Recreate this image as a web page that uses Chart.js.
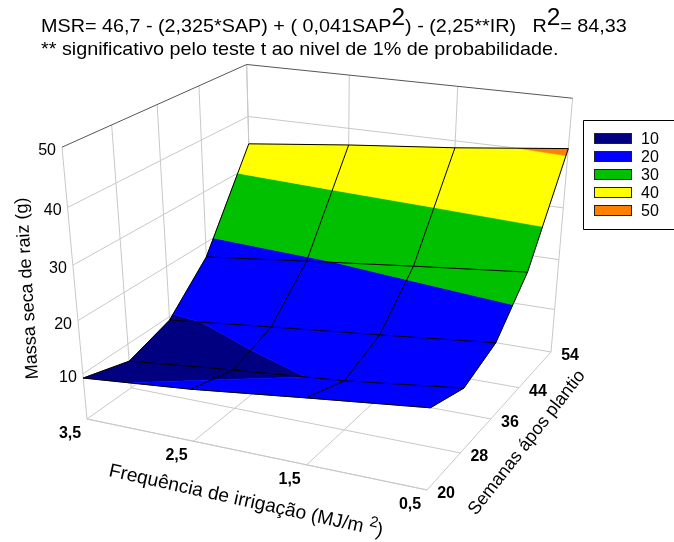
<!DOCTYPE html>
<html>
<head>
<meta charset="utf-8">
<title>Massa seca de raiz</title>
<script src="https://cdn.jsdelivr.net/npm/chart.js@4/dist/chart.umd.min.js"></script>
<style>
    html, body { margin: 0; padding: 0; background: #fff; overflow: hidden; }
    canvas { display: block; }
</style>
</head>
<body>
<canvas id="surface" width="674" height="542"></canvas>
<script>
// Axis values
const irrigationValues = [3.5, 2.5, 1.5, 0.5];
const irrigationLabels = ['3,5', '2,5', '1,5', '0,5'];
const weekValues = [20, 28, 36, 44, 54];
const massTicks = [10, 20, 30, 40, 50];

// Surface heights, one list per week, in irrigationValues order
const massWeek20 = [9.2, 11.1, 13.6, 16.0];
const massWeek28 = [6.6, 8.75, 10.65, 13.3];
const massWeek36 = [9.3, 11.5, 13.6, 15.8];
const massWeek44 = [17.1, 19.4, 21.6, 23.7];
const massWeek54 = [34.6, 36.8, 38.7, 41.0];
const massGrid = [massWeek20, massWeek28, massWeek36, massWeek44, massWeek54];

// Contour bands
const bandLabels = ['10', '20', '30', '40', '50'];
const bandLimits = [10, 20, 30, 40, 60];
const bandColors = ['#000080', '#0000ff', '#00c000', '#ffff00', '#ff8000'];

const GRID_COLOR = '#c8c8c8';
const FONT = '"Liberation Sans", Arial, sans-serif';
const MASS_BASE = 1.2;
const MASS_TOP = 50;

// Perspective box: u along irrigation, v along weeks, w along mass
function project(irrigation, week, mass) {
    const u = (3.5 - irrigation) / 3;
    const v = (week - 20) / 34;
    const w = (mass - MASS_BASE) / (MASS_TOP - MASS_BASE);
    const d = 1 - 0.0879 * u + 0.1775 * v - 0.095 * w;
    return {
        x: (87 + 302.5 * u + 210.9 * v - 30.9 * w) / d,
        y: (419 + 27.9 * u - 63.4 * v - 285.8 * w) / d
    };
}

const datasets = [];

function addLine(points, color, width) {
    datasets.push({
        data: points,
        borderColor: color,
        borderWidth: width,
        pointRadius: 0,
        showLine: true,
        fill: false,
        tension: 0
    });
}

function addPolygon(points, color) {
    datasets.push({
        data: points.concat([points[0]]),
        borderColor: color,
        borderWidth: 0.6,
        backgroundColor: color,
        pointRadius: 0,
        showLine: true,
        fill: 'shape',
        tension: 0
    });
}

// Keep the part of a polygon on one side of a mass level
function clipPolygon(corners, level, keepAbove) {
    const out = [];
    corners.forEach((a, i) => {
        const b = corners[(i + 1) % corners.length];
        const aIn = keepAbove ? a.mass >= level : a.mass <= level;
        const bIn = keepAbove ? b.mass >= level : b.mass <= level;
        if (aIn) out.push(a);
        if (aIn !== bIn) {
            const t = (level - a.mass) / (b.mass - a.mass);
            out.push({
                irrigation: a.irrigation + t * (b.irrigation - a.irrigation),
                week: a.week + t * (b.week - a.week),
                mass: level
            });
        }
    });
    return out;
}

function corner(row, col) {
    return { irrigation: irrigationValues[col], week: weekValues[row], mass: massGrid[row][col] };
}

const first = irrigationValues[0];
const last = irrigationValues[irrigationValues.length - 1];
const frontWeek = weekValues[0];
const backWeek = weekValues[weekValues.length - 1];

// Walls and floor grid
massTicks.forEach(m => {
    if (m === MASS_TOP) return;
    addLine([project(first, frontWeek, m), project(first, backWeek, m), project(last, backWeek, m)], GRID_COLOR, 1);
});
weekValues.forEach(w => {
    addLine([project(first, w, MASS_TOP), project(first, w, MASS_BASE), project(last, w, MASS_BASE)], GRID_COLOR, 1);
});
irrigationValues.forEach(f => {
    addLine([project(f, frontWeek, MASS_BASE), project(f, backWeek, MASS_BASE), project(f, backWeek, MASS_TOP)], GRID_COLOR, 1);
});
addLine([project(first, frontWeek, MASS_BASE), project(last, frontWeek, MASS_BASE)], GRID_COLOR, 1);
addLine([project(first, frontWeek, MASS_TOP), project(first, backWeek, MASS_TOP), project(last, backWeek, MASS_TOP)], '#555555', 1);

// Surface, painted from the back row to the front
for (let row = weekValues.length - 2; row >= 0; row--) {
    for (let col = 0; col < irrigationValues.length - 1; col++) {
        const quad = [corner(row, col), corner(row, col + 1), corner(row + 1, col + 1), corner(row + 1, col)];
        let lower = -Infinity;
        bandLimits.forEach((upper, b) => {
            let piece = clipPolygon(quad, upper, false);
            if (lower !== -Infinity) piece = clipPolygon(piece, lower, true);
            if (piece.length > 2) {
                addPolygon(piece.map(p => project(p.irrigation, p.week, p.mass)), bandColors[b]);
            }
            lower = upper;
        });
    }
}

// Mesh on top of the surface
massGrid.forEach((values, row) => {
    addLine(values.map((m, col) => project(irrigationValues[col], weekValues[row], m)), '#000000', 1);
});
irrigationValues.forEach((f, col) => {
    addLine(weekValues.map((w, row) => project(f, w, massGrid[row][col])), '#000000', 1);
});

// Later datasets must paint over earlier ones
datasets.forEach((d, i) => { d.order = datasets.length - i; });

function drawRuns(ctx, runs, x, y) {
    runs.forEach(run => {
        ctx.font = run.size + 'px ' + FONT;
        ctx.fillText(run.text, x, y - (run.rise || 0));
        x += ctx.measureText(run.text).width;
    });
}

function drawRotated(ctx, runs, x, y, degrees) {
    ctx.save();
    ctx.translate(x, y);
    ctx.rotate(degrees * Math.PI / 180);
    drawRuns(ctx, runs, 0, 0);
    ctx.restore();
}

// The reference text is a little wider than its height suggests
function drawStretched(ctx, runs, x, y, stretch) {
    ctx.save();
    ctx.translate(x, y);
    ctx.scale(stretch, 1);
    drawRuns(ctx, runs, 0, 0);
    ctx.restore();
}

const textPlugin = {
    id: 'surfaceText',
    afterDraw(chart) {
        const ctx = chart.ctx;
        const sx = chart.scales.x;
        const sy = chart.scales.y;
        const toPixel = p => ({ x: sx.getPixelForValue(p.x), y: sy.getPixelForValue(p.y) });
        ctx.save();
        ctx.fillStyle = '#000';
        ctx.textBaseline = 'alphabetic';

        // Equation lines
        drawStretched(ctx, [
            { text: 'MSR= 46,7 - (2,325*SAP) + ( 0,041SAP', size: 18.6 },
            { text: '2', size: 23, rise: 7 },
            { text: ') - (2,25**IR)   R', size: 18.6 },
            { text: '2', size: 23, rise: 7 },
            { text: '= 84,33', size: 18.6 }
        ], 41, 32, 1.063);
        drawStretched(ctx, [{ text: '** significativo pelo teste t ao nivel de 1% de probabilidade.', size: 18.6 }], 41, 55, 1.063);

        // Mass ticks
        ctx.textAlign = 'right';
        ctx.font = '16px ' + FONT;
        massTicks.forEach(m => {
            const p = toPixel(project(first, frontWeek, m));
            ctx.fillText(String(m), p.x - 6, p.y + 8);
        });

        // Floor ticks
        ctx.textAlign = 'center';
        ctx.font = 'bold 16px ' + FONT;
        irrigationValues.forEach((f, i) => {
            const p = toPixel(project(f, frontWeek, MASS_BASE));
            ctx.fillText(irrigationLabels[i], p.x - 17, p.y + 19);
        });
        weekValues.forEach(w => {
            const p = toPixel(project(last, w, MASS_BASE));
            ctx.fillText(String(w), p.x + 19, p.y + 8);
        });

        // Axis titles
        ctx.textAlign = 'left';
        drawRotated(ctx, [{ text: 'Massa seca de raiz (g)', size: 18 }], 38, 379, -93.5);
        drawRotated(ctx, [{ text: 'Semanas ápos plantio', size: 18 }], 476, 516, -52);
        drawRotated(ctx, [
            { text: 'Frequência de irrigação (MJ/m ', size: 19.2 },
            { text: '2', size: 15, rise: 8 },
            { text: ')', size: 19.2 }
        ], 108, 476, 12.5);

        // Legend box runs off the right edge of the page
        ctx.strokeStyle = '#000';
        ctx.lineWidth = 1;
        ctx.beginPath();
        ctx.moveTo(680, 120.5);
        ctx.lineTo(583.5, 120.5);
        ctx.lineTo(583.5, 229.5);
        ctx.lineTo(680, 229.5);
        ctx.stroke();
        ctx.font = '16px ' + FONT;
        bandLabels.forEach((label, i) => {
            const top = 133 + i * 18;
            ctx.fillStyle = bandColors[i];
            ctx.fillRect(594.5, top + 0.5, 37, 10);
            ctx.strokeStyle = '#222';
            ctx.strokeRect(594.5, top + 0.5, 37, 10);
            ctx.fillStyle = '#000';
            ctx.fillText(label, 641, top + 11);
        });
        ctx.restore();
    }
};

new Chart(document.getElementById('surface'), {
    type: 'scatter',
    data: { datasets: datasets },
    options: {
        responsive: false,
        animation: false,
        clip: false,
        layout: { padding: 0 },
        plugins: {
            legend: { display: false },
            title: { display: false },
            tooltip: { enabled: false }
        },
        scales: {
            x: { type: 'linear', display: false, min: 0, max: 674 },
            y: { type: 'linear', display: false, min: 0, max: 542, reverse: true }
        }
    },
    plugins: [textPlugin]
});
</script>
</body>
</html>
